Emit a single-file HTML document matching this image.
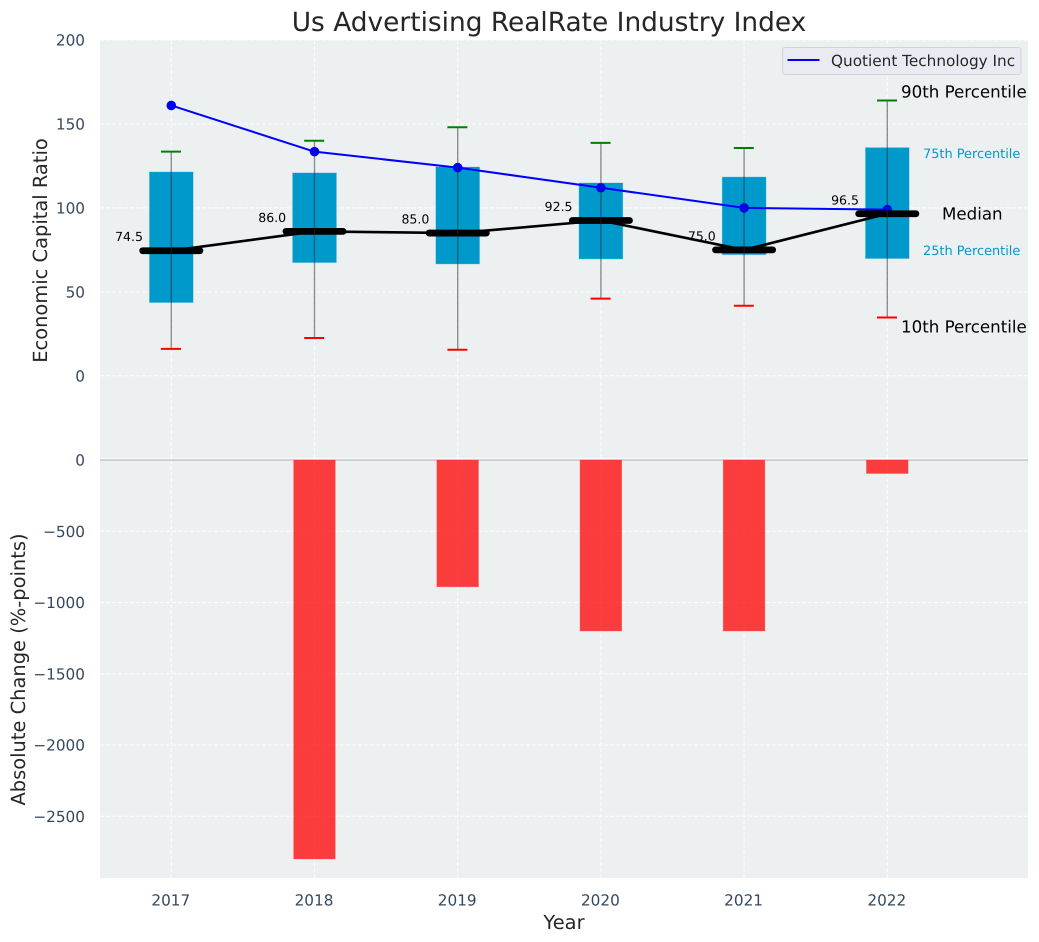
<!DOCTYPE html>
<html lang="en">
<head>
<meta charset="utf-8">
<title>Us Advertising RealRate Industry Index</title>
<style>
html,body{margin:0;padding:0;background:#fff;width:1039px;height:942px;overflow:hidden}
svg{display:block;font-family:"DejaVu Sans","Liberation Sans",sans-serif;text-rendering:geometricPrecision}
</style>
</head>
<body>
<svg id="chart" xmlns="http://www.w3.org/2000/svg" width="1039" height="942" viewBox="0 0 1039 942"></svg>
<script>
const years = ['2017', '2018', '2019', '2020', '2021', '2022'];
const p10 = [16, 22.5, 15.5, 46, 41.7, 34.7];
const p25 = [43.5, 67.3, 66.5, 69.5, 72, 69.7];
const medians = [74.5, 86.0, 85.0, 92.5, 75.0, 96.5];
const p75 = [121.5, 121, 124.5, 115, 118.5, 136];
const p90 = [133.5, 140, 148, 138.7, 135.7, 164];
const companyRatio = [161, 133.5, 124, 112, 100, 99];
const absoluteChange = [0, -2800, -890, -1200, -1200, -95];
const upperTicks = [0, 50, 100, 150, 200];
const lowerTicks = [0, -500, -1000, -1500, -2000, -2500];

const NS = 'http://www.w3.org/2000/svg';
const svg = document.getElementById('chart');
const left = 100, right = 1028, top_ = 40, mid = 460, bottom = 878;
const x = i => 171.3 + i * 143.2;
const yUp = v => 375.8 - v * 1.679;
const yLow = v => 460 - v * 0.1425;
const TICK = '#34495e', LABEL = '#262626';

function el(tag, attrs, parent) {
  const e = document.createElementNS(NS, tag);
  for (const k in attrs) e.setAttribute(k, attrs[k]);
  (parent || svg).appendChild(e);
  return e;
}
function txt(s, attrs, parent) {
  const e = el('text', attrs, parent);
  e.textContent = s;
  return e;
}
const fmt = v => (v < 0 ? '\u2212' + (-v) : String(v));

/* plot backgrounds */
const bgUp = el('rect', {x: left, y: top_, width: right - left, height: mid - top_, fill: '#ecf0f1'});


const bgLow = el('rect', {x: left, y: mid, width: right - left, height: bottom - mid, fill: '#ecf0f1'});



const grid = {stroke: '#ffffff', 'stroke-width': 1, 'stroke-dasharray': '4 2', opacity: 0.9};

/* vertical grid + x tick labels */
years.forEach((yr, i) => {
  const g = el('line', Object.assign({x1: x(i), x2: x(i), y1: top_, y2: mid}, grid));
  
  
  const g2 = el('line', Object.assign({x1: x(i), x2: x(i), y1: mid, y2: bottom}, grid));
  
  
  const t = txt(yr, {x: x(i) - 0.5, y: 905.5, 'text-anchor': 'middle', 'font-size': 15.28, fill: TICK});
  
  
});

/* upper y grid + ticks */
upperTicks.forEach(v => {
  const g = el('line', Object.assign({x1: left, x2: right, y1: yUp(v), y2: yUp(v)}, grid));
  
  
  const t = txt(fmt(v), {x: 85, y: yUp(v) + 5.5, 'text-anchor': 'end', 'font-size': 15.28, fill: TICK});
  
  
});

/* lower y grid + ticks */
lowerTicks.forEach(v => {
  if (v !== 0) {
    const g = el('line', Object.assign({x1: left, x2: right, y1: yLow(v), y2: yLow(v)}, grid));
    
    
  }
  const t = txt(fmt(v), {x: 85, y: yLow(v) + 5.5, 'text-anchor': 'end', 'font-size': 15.28, fill: TICK});
  
  
});

/* zero divider */
const sep = el('line', {x1: left, x2: right, y1: 458.7, y2: 458.7, stroke: '#ffffff', 'stroke-width': 1});


const zero = el('line', {x1: left, x2: right, y1: 460, y2: 460, stroke: '#b9bcbe', 'stroke-width': 1.3});



/* change bars */
absoluteChange.forEach((v, i) => {
  if (v === 0) return;
  const b = el('rect', {x: x(i) - 20.9, y: yLow(0), width: 41.7, height: yLow(v) - yLow(0), fill: 'rgba(255,0,0,.75)', stroke: 'rgba(255,90,90,.6)', 'stroke-width': 0.6});
  
  
});

/* boxes */
years.forEach((yr, i) => {
  const b = el('rect', {x: x(i) - 22.1, y: yUp(p75[i]), width: 44.2, height: yUp(p25[i]) - yUp(p75[i]), fill: '#0099cc', stroke: '#b5dbe8', 'stroke-width': 0.5});
  
  
});

/* median line */
const medLine = el('polyline', {points: medians.map((m, i) => x(i) + ',' + yUp(m)).join(' '), fill: 'none', stroke: '#000', 'stroke-width': 2.6, 'stroke-linejoin': 'round'});



/* company line */
const coLine = el('polyline', {points: companyRatio.map((m, i) => x(i) + ',' + yUp(m)).join(' '), fill: 'none', stroke: '#0000ff', 'stroke-width': 2, 'stroke-linejoin': 'round'});


companyRatio.forEach((m, i) => {
  const c = el('circle', {cx: x(i), cy: yUp(m), r: 4.8, fill: '#0000ff'});
  
  
});

/* medians, whiskers, value labels */
years.forEach((yr, i) => {
  const m = el('line', {x1: x(i) - 28.6, x2: x(i) + 28.6, y1: yUp(medians[i]), y2: yUp(medians[i]), stroke: '#000', 'stroke-width': 6.8, 'stroke-linecap': 'round'});
  
  
  const w = el('line', {x1: x(i), x2: x(i), y1: yUp(p90[i]), y2: yUp(p10[i]), stroke: 'rgba(40,40,40,.5)', 'stroke-width': 1.4});
  
  
  const hi = el('line', {x1: x(i) - 10.3, x2: x(i) + 9.7, y1: yUp(p90[i]), y2: yUp(p90[i]), stroke: '#008000', 'stroke-width': 2});
  
  
  const lo = el('line', {x1: x(i) - 10.3, x2: x(i) + 9.7, y1: yUp(p10[i]), y2: yUp(p10[i]), stroke: '#ff0000', 'stroke-width': 2});
  
  
  const t = txt(medians[i].toFixed(1), {x: x(i) - 42.3, y: yUp(medians[i]) - 9.5, 'text-anchor': 'middle', 'font-size': 12.5, fill: '#000'});
  
  
});

/* percentile annotations on the last year */
const last = years.length - 1;
const a90 = txt('90th Percentile', {x: 901, y: yUp(p90[last]) - 3, 'font-size': 16.67, fill: '#000'});


const a75 = txt('75th Percentile', {x: 923, y: yUp(p75[last]) + 10.5, 'font-size': 12.9, fill: '#0099cc'});


const aMed = txt('Median', {x: 942, y: yUp(medians[last]) + 5.5, 'font-size': 16.67, fill: '#000'});


const a25 = txt('25th Percentile', {x: 923, y: yUp(p25[last]) - 4, 'font-size': 12.9, fill: '#0099cc'});


const a10 = txt('10th Percentile', {x: 901, y: yUp(p10[last]) + 15, 'font-size': 16.67, fill: '#000'});



/* legend */
const legendBox = el('rect', {x: 782.5, y: 47.5, width: 238.5, height: 27, rx: 2.5, fill: '#eaeaf2', stroke: '#d2d3d8', 'stroke-width': 1});


const legendLine = el('line', {x1: 787.5, x2: 819.5, y1: 60, y2: 60, stroke: '#0000ff', 'stroke-width': 2});


const legendText = txt('Quotient Technology Inc', {x: 831, y: 66, 'font-size': 15.28, fill: '#262626'});



/* titles */
const title = txt('Us Advertising RealRate Industry Index', {x: 549, y: 31, 'text-anchor': 'middle', 'font-size': 26.4, fill: LABEL});


const xTitle = txt('Year', {x: 564, y: 929, 'text-anchor': 'middle', 'font-size': 19.44, fill: LABEL});


const yUpTitle = txt('Economic Capital Ratio', {x: 0, y: 0, 'text-anchor': 'middle', 'font-size': 19.44, fill: LABEL, transform: 'translate(47,250.5) rotate(-90)'});


const yLowTitle = txt('Absolute Change (%-points)', {x: 0, y: 0, 'text-anchor': 'middle', 'font-size': 19.44, fill: LABEL, transform: 'translate(25,669.5) rotate(-90)'});


</script>
</body>
</html>
